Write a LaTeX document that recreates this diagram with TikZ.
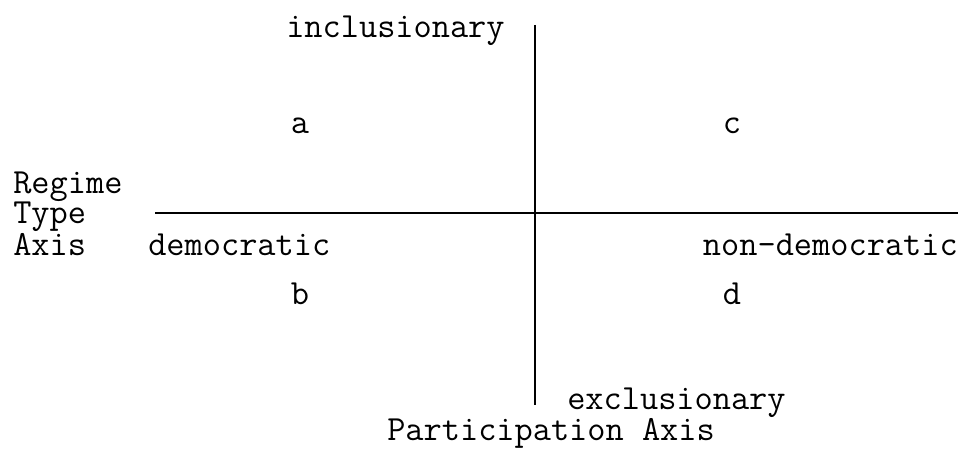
\documentclass[tikz,border=0pt]{standalone}
\usepackage{fontspec}
\begin{document}
\begin{tikzpicture}[x=0.75pt,y=-0.75pt,
  lbl/.style={inner sep=0pt,text height=0.6em,text depth=0.18em,font=\ttfamily\fontsize{26.5}{22.5}\selectfont},
  axisline/.style={line width=1.5pt}]
\useasboundingbox (0,0) rectangle (970,452);
\coordinate (hl) at (155,213);
\coordinate (hr) at (958,213);
\coordinate (vt) at (535,25);
\coordinate (vb) at (535,405);
\draw[axisline] (hl) -- (hr);
\draw[axisline] (vt) -- (vb);
\node[lbl,anchor=base west] (incl) at (286,38) {inclusionary};
\node[lbl,anchor=base] (a) at (300,134) {a};
\node[lbl,anchor=base] (c) at (732,134) {c};
\node[lbl,anchor=base west,align=left] (rta) at (13,255) {Regime\\Type\\Axis};
\node[lbl,anchor=base west] (dem) at (148,255) {democratic};
\node[lbl,anchor=base east] (nondem) at (958,255) {non-democratic};
\node[lbl,anchor=base] (b) at (300,304) {b};
\node[lbl,anchor=base] (d) at (732,304) {d};
\node[lbl,anchor=base west] (excl) at (567,409) {exclusionary};
\node[lbl,anchor=base west] (part) at (387,440) {Participation Axis};
\end{tikzpicture}
\end{document}
